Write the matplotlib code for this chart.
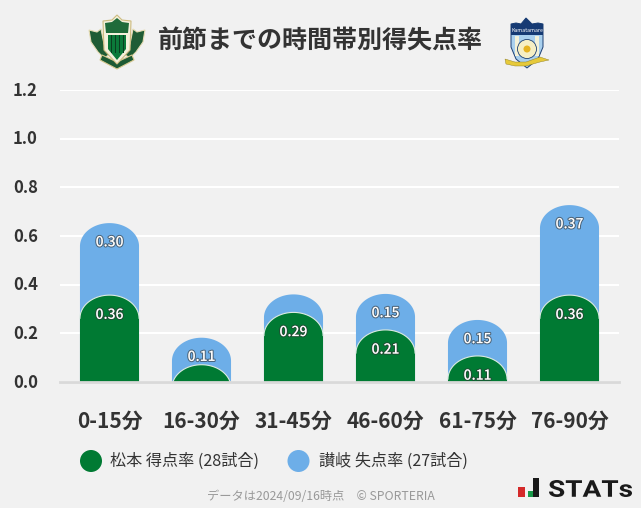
import numpy as np
import matplotlib
matplotlib.use('Agg')
import matplotlib.pyplot as plt
import matplotlib.patheffects as pe
from matplotlib.font_manager import FontProperties
from matplotlib.textpath import TextPath
from matplotlib.transforms import Affine2D, ScaledTranslation
from matplotlib.patches import PathPatch, Polygon, Circle, Rectangle

plt.rcParams['font.family'] = ['Noto Sans CJK JP', 'DejaVu Sans']

categories = ['0-15分', '16-30分', '31-45分', '46-60分', '61-75分', '76-90分']
home_rate = [0.357, 0.071, 0.286, 0.214, 0.107, 0.357]
away_rate = [0.296, 0.111, 0.074, 0.148, 0.148, 0.370]
home_labels = ['0.36', '', '0.29', '0.21', '0.11', '0.36']
away_labels = ['0.30', '0.11', '', '0.15', '0.15', '0.37']
y_ticks = [0.0, 0.2, 0.4, 0.6, 0.8, 1.0, 1.2]
legend_labels = ['松本 得点率 (28試合)', '讃岐 失点率 (27試合)']
title = '前節までの時間帯別得失点率'
footer = 'データは2024/09/16時点　© SPORTERIA'

BG = '#f1f1f1'
GREEN = '#007a33'
BLUE = '#6daee8'
W, H = 641, 508


def dome(x, top, half, cap):
    # bar with an elliptical top, the ellipse gets cut off at zero for short bars
    t = np.linspace(np.pi, 0, 60)
    xs = x + half * np.cos(t)
    ys = top - cap + cap * np.sin(t)
    xs = np.concatenate([[x - half], xs, [x + half]])
    ys = np.concatenate([[0], ys, [0]])
    ys = np.clip(ys, 0, None)
    return xs, ys


fig = plt.figure(figsize=(W / 100, H / 100), dpi=100, facecolor=BG)
ax = fig.add_axes([60 / W, 1 - 382 / H, 559 / W, 292 / H], facecolor=BG)
ax.set_xlim(-0.538, 5.538)
ax.set_ylim(0, 1.2)

for s in ax.spines.values():
    s.set_visible(False)
ax.set_yticks(y_ticks)
ax.set_yticklabels([f'{v:.1f}' for v in y_ticks], fontsize=12, fontweight='bold', color='#333333')
ax.set_xticks(range(len(categories)))
ax.set_xticklabels(categories, fontsize=15, fontweight='bold', color='#333333')
ax.tick_params(axis='both', length=0)
ax.tick_params(axis='x', pad=20.5)
ax.tick_params(axis='y', pad=16)
# y labels sit a touch above their gridlines
nudge = ScaledTranslation(0, 1.5 / 100, fig.dpi_scale_trans)
for lab in ax.get_yticklabels():
    lab.set_transform(lab.get_transform() + nudge)
ax.grid(axis='y', color='white', linewidth=1.5, zorder=0)
ax.set_axisbelow(True)

half = 0.321
cap = 0.095
label_fx = [pe.withStroke(linewidth=1.5, foreground='#33333399')]

for i in range(len(categories)):
    total = home_rate[i] + away_rate[i]
    xs, ys = dome(i, total, half, cap)
    ax.fill(xs, ys, color=BLUE, lw=0, zorder=2)
    xs, ys = dome(i, home_rate[i], half, cap)
    ax.fill(xs, ys, color=GREEN, lw=0, zorder=3)
    ax.plot(xs[1:-1], ys[1:-1], color='#dcebe2', lw=0.8, zorder=4)
    if home_labels[i]:
        ax.text(i, home_rate[i] - 0.081, home_labels[i], color='white', fontsize=10,
                fontweight='medium', ha='center', va='center', zorder=5, path_effects=label_fx)
    if away_labels[i]:
        ax.text(i, total - 0.079, away_labels[i], color='white', fontsize=10,
                fontweight='medium', ha='center', va='center', zorder=5, path_effects=label_fx)

ax.axhline(0, color='#d9d9d9', lw=2, zorder=6, clip_on=False)

# overlay in pixel coordinates for title, legend and logos
ov = fig.add_axes([0, 0, 1, 1], facecolor='none')
ov.set_xlim(0, W)
ov.set_ylim(H, 0)
ov.axis('off')

ov.text(320.5, 41.5, title, fontsize=18, fontweight='bold', color='#333333', ha='center', va='center')

ov.add_patch(Circle((91, 461), 11, color=GREEN, lw=0))
ov.text(110, 461, legend_labels[0], fontsize=11.6, color='#333333', va='center')
ov.add_patch(Circle((298.5, 461), 11, color=BLUE, lw=0))
ov.text(319, 461, legend_labels[1], fontsize=11.6, color='#333333', va='center')

ov.text(320.5, 497, footer, fontsize=8.8, color='#999999', ha='center', va='center')

# STATs logo
ov.add_patch(Rectangle((518, 487), 7, 10, color='#d42a2a', lw=0))
ov.add_patch(Rectangle((528, 491), 5, 6, color='#1a9a4a', lw=0))
ov.add_patch(Rectangle((533, 478), 6, 19, color='#1a1a1a', lw=0))
fp = FontProperties(family='Roboto', weight='bold')
tp = TextPath((0, 0), 'STATs', size=10, prop=fp)
box = tp.get_extents()
trans = (Affine2D().translate(-box.x0, -box.y0).scale(83 / box.width, -17 / box.height)
         .translate(549, 497) + ov.transData)
ov.add_patch(PathPatch(tp, facecolor='#1a1a1a', lw=0, transform=trans))

# Matsumoto emblem, rough shapes
wing = '#1f5c35'
ov.add_patch(Polygon([(89, 30), (97, 32), (101, 29), (104, 44), (112, 53), (104, 58), (98, 52), (91, 42)],
                     facecolor=wing, edgecolor='#e6dcb4', lw=0.8))
ov.add_patch(Polygon([(145, 30), (137, 32), (133, 29), (130, 44), (122, 53), (130, 58), (136, 52), (143, 42)],
                     facecolor=wing, edgecolor='#e6dcb4', lw=0.8))
ov.add_patch(Polygon([(102, 55), (117, 62), (132, 55), (134, 60), (117, 69), (100, 60)],
                     facecolor='#1c5a34', edgecolor='#d8c98f', lw=0.8))
ov.add_patch(Polygon([(117, 15), (122, 20), (131, 21), (130, 50), (117, 64), (104, 50), (103, 21), (112, 20)],
                     facecolor='#f4f1dc', edgecolor='#cdbb80', lw=0.8))
ov.add_patch(Polygon([(117, 18), (122, 22), (129, 23), (128, 33), (106, 33), (105, 23), (112, 22)],
                     color='#1f6b3a', lw=0))
ov.add_patch(Polygon([(108, 35), (126, 35), (126, 49), (117, 60), (108, 49)], color='#0b7a3a', lw=0))
for bx in (110.5, 114.5, 118.5, 122.5):
    ov.add_patch(Rectangle((bx, 35), 1.5, 18, color='#0a3f20', lw=0))

# Kagawa emblem, rough shapes
ov.add_patch(Polygon([(511, 24), (516, 23), (521, 24), (526, 18), (532, 24), (538, 23), (543, 24),
                      (543, 47), (538, 59), (527, 68), (516, 59), (511, 47)],
                     facecolor='#a9d0ee', edgecolor='#1c3f73', lw=0.7))
for sx in (515, 535):
    ov.add_patch(Rectangle((sx, 36), 4, 20, color='#f3f1d8', lw=0))
ov.add_patch(Polygon([(511, 24), (516, 23), (521, 24), (526, 18), (532, 24), (538, 23), (543, 24),
                      (543, 35), (511, 35)], color='#163a73', lw=0))
ov.add_patch(Circle((527, 49), 9.5, facecolor='#f6efc4', edgecolor='#1c3f73', lw=0.6))
ov.add_patch(Circle((527, 49), 3.5, color='#e6b422', lw=0))
ov.add_patch(Polygon([(505, 59), (515, 62), (526, 62), (540, 57), (549, 60), (540, 62), (526, 66), (515, 66), (506, 64)],
                     facecolor='#e6c93a', edgecolor='#8a7a20', lw=0.3))
ov.text(527, 30, 'Kamatamare', fontsize=3.8, color='white', ha='center', va='center', style='italic')

fig.savefig('out.png', dpi=100, facecolor=BG)
